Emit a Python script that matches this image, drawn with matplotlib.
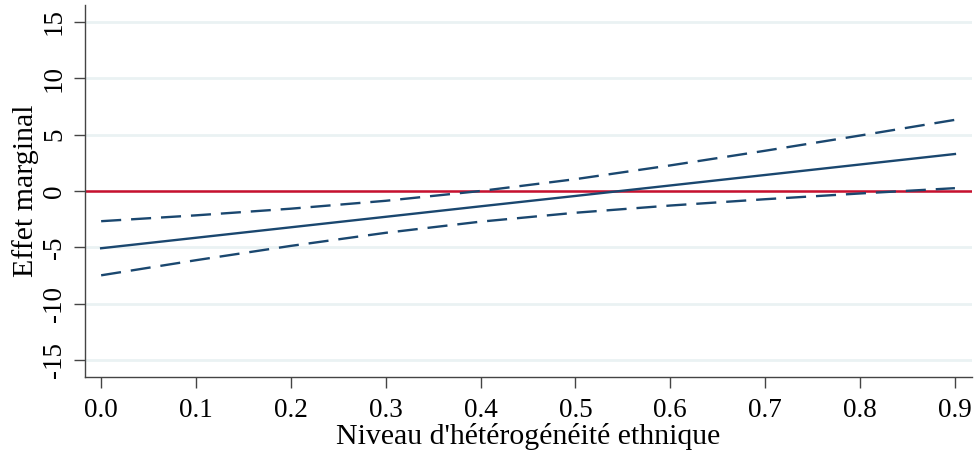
import matplotlib
matplotlib.use("Agg")
import matplotlib.pyplot as plt

# Marginal effect and 95% confidence bounds along ethnic heterogeneity
heterogeneite = [0.0, 0.1, 0.2, 0.3, 0.4, 0.5, 0.6, 0.7, 0.8, 0.9]
effet = [-5.08, -4.15, -3.22, -2.29, -1.36, -0.44, 0.49, 1.42, 2.35, 3.28]
borne_sup = [-2.68, -2.16, -1.57, -0.87, 0.00, 1.05, 2.27, 3.57, 4.92, 6.31]
borne_inf = [-7.48, -6.14, -4.87, -3.71, -2.72, -1.93, -1.29, -0.73, -0.22, 0.25]

x_ticks = [0.0, 0.1, 0.2, 0.3, 0.4, 0.5, 0.6, 0.7, 0.8, 0.9]
y_ticks = [-15, -10, -5, 0, 5, 10, 15]

navy = "#1a476f"
red = "#c8102e"
grid_col = "#eaf2f3"

plt.rcParams["font.family"] = ["Liberation Serif", "DejaVu Serif"]

fig = plt.figure(figsize=(9.76, 4.53), dpi=100)
ax = fig.add_axes([0.0871, 0.1678, 0.9088, 0.8212])

for y in y_ticks:
    ax.axhline(y, color=grid_col, lw=2.0, zorder=0)

ax.plot(heterogeneite, borne_sup, color=navy, lw=1.7, dashes=(8.5, 4.2), zorder=3)
ax.plot(heterogeneite, borne_inf, color=navy, lw=1.7, dashes=(8.5, 4.2), zorder=3)
ax.plot(heterogeneite, effet, color=navy, lw=1.7, zorder=3)
ax.axhline(0, color=red, lw=1.8, zorder=2)

ax.set_xlim(-0.017, 0.918)
ax.set_ylim(-16.5, 16.5)
ax.set_xticks(x_ticks)
ax.set_xticklabels([f"{v:.1f}" for v in x_ticks])
ax.set_yticks(y_ticks)
ax.set_yticklabels([str(v) for v in y_ticks], rotation=90, va="center")

for side in ("top", "right"):
    ax.spines[side].set_visible(False)
for side in ("left", "bottom"):
    ax.spines[side].set_color("#444444")
    ax.spines[side].set_linewidth(1.0)

ax.tick_params(axis="both", direction="out", length=8, width=1.0,
               color="#444444", labelsize=19.5, pad=6)
ax.tick_params(axis="x", pad=7)
ax.tick_params(axis="y", pad=5)

ax.set_xlabel("Niveau d'hétérogénéité ethnique", fontsize=21.5, labelpad=0)
ax.set_ylabel("Effet marginal", fontsize=21.5, labelpad=2)

fig.savefig("out.png", dpi=100, facecolor="white")
